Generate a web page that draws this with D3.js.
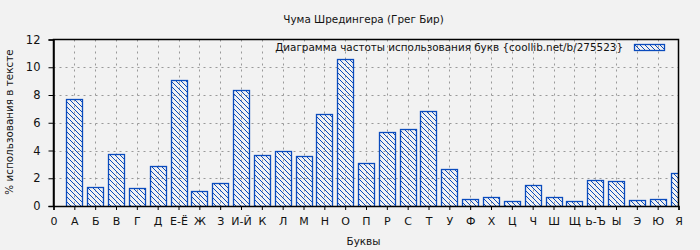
<!DOCTYPE html>
<html>
<head>
<meta charset="utf-8">
<script src="https://cdn.jsdelivr.net/npm/d3@7"></script>
<style>
  html, body { margin: 0; padding: 0; background: #f2f2f2; }
  svg { display: block; font-family: "DejaVu Sans", sans-serif; }
</style>
</head>
<body>
<div id="chart"></div>
<script>
// данные
const letters = ['А', 'Б', 'В', 'Г', 'Д', 'Е-Ё', 'Ж', 'З', 'И-Й', 'К', 'Л', 'М', 'Н', 'О', 'П',
  'Р', 'С', 'Т', 'У', 'Ф', 'Х', 'Ц', 'Ч', 'Ш', 'Щ', 'Ь-Ъ', 'Ы', 'Э', 'Ю', 'Я'];
const percents = [7.68, 1.35, 3.72, 1.27, 2.86, 9.05, 1.06, 1.63, 8.33, 3.65, 3.94, 3.58, 6.60, 10.63, 3.07,
  5.31, 5.52, 6.82, 2.64, 0.48, 0.63, 0.34, 1.49, 0.63, 0.34, 1.85, 1.78, 0.41, 0.48, 2.35];
const yTicks = [0, 2, 4, 6, 8, 10, 12];
const xTickLabels = ['0'].concat(letters);

const title = 'Чума Шредингера (Грег Бир)';
const legendText = 'Диаграмма частоты использования букв {coollib.net/b/275523}';

const W = 700, H = 250;
const pLeft = 53.5, pRight = 678.5, pTop = 39.5, pBottom = 206;
const blue = '#0a4bbd';
const textColor = '#111';

const svg = d3.select('#chart').append('svg')
  .attr('width', W)
  .attr('height', H);

svg.append('rect').attr('width', W).attr('height', H).attr('fill', '#f2f2f2');

// штриховка
const defs = svg.append('defs');
const pat = defs.append('pattern')
  .attr('id', 'hatch')
  .attr('patternUnits', 'userSpaceOnUse')
  .attr('width', 5)
  .attr('height', 5);
pat.append('path')
  .attr('d', 'M0,0 L5,5 M-1,4 L1,6 M4,-1 L6,1')
  .attr('stroke', blue)
  .attr('stroke-width', 1);

defs.append('clipPath').attr('id', 'plotClip')
  .append('rect')
  .attr('x', pLeft).attr('y', pTop - 1)
  .attr('width', pRight - pLeft).attr('height', pBottom - pTop + 2);

const x = d3.scaleLinear().domain([0, 30]).range([pLeft, pRight]);
const y = d3.scaleLinear().domain([0, 12]).range([pBottom, pTop]);

// сетка
const grid = svg.append('g')
  .attr('stroke', '#999')
  .attr('stroke-dasharray', '2,4')
  .attr('stroke-width', 1);
d3.range(1, 30).forEach(i => {
  grid.append('line')
    .attr('x1', Math.round(x(i)) + 0.5).attr('x2', Math.round(x(i)) + 0.5)
    .attr('y1', pTop).attr('y2', pBottom);
});
yTicks.slice(1, -1).forEach(v => {
  grid.append('line')
    .attr('x1', pLeft).attr('x2', pRight)
    .attr('y1', Math.round(y(v)) + 0.5).attr('y2', Math.round(y(v)) + 0.5);
});

// столбцы
const barW = 16;
svg.append('g')
  .attr('clip-path', 'url(#plotClip)')
  .selectAll('rect')
  .data(percents)
  .enter()
  .append('rect')
  .attr('x', (d, i) => Math.round(x(i + 1) - barW / 2) + 0.5)
  .attr('y', d => Math.round(y(d)) + 0.5)
  .attr('width', barW)
  .attr('height', d => Math.round(pBottom) - Math.round(y(d)))
  .attr('fill', 'url(#hatch)')
  .attr('stroke', blue)
  .attr('stroke-width', 1.3);

// рамка
svg.append('path')
  .attr('d', `M${pLeft},${pBottom}V${pTop}H${pRight}V${pBottom}`)
  .attr('fill', 'none')
  .attr('stroke', '#000')
  .attr('stroke-width', 1.5);

// оси
const yAxis = svg.append('g')
  .attr('transform', `translate(${pLeft},0)`)
  .call(d3.axisLeft(y).tickValues(yTicks).tickSize(5).tickPadding(8));
yAxis.select('.domain').attr('stroke-width', 1.5);
yAxis.selectAll('text').attr('font-size', 11.5).attr('font-family', '"DejaVu Sans", sans-serif').attr('fill', textColor);

const xAxis = svg.append('g')
  .attr('transform', `translate(0,${pBottom})`)
  .call(d3.axisBottom(x).tickValues(d3.range(0, 31))
    .tickFormat(i => xTickLabels[i]).tickSize(4).tickPadding(7));
xAxis.select('.domain').attr('stroke-width', 1.5);
xAxis.selectAll('text').attr('font-size', 11).attr('font-family', '"DejaVu Sans", sans-serif').attr('fill', textColor);

// заголовки
svg.append('text')
  .attr('x', 363.5).attr('y', 23)
  .attr('text-anchor', 'middle')
  .attr('font-size', 10.4)
  .attr('fill', textColor)
  .text(title);

svg.append('text')
  .attr('x', 363.5).attr('y', 245)
  .attr('text-anchor', 'middle')
  .attr('font-size', 10.4)
  .attr('fill', textColor)
  .text('Буквы');

svg.append('text')
  .attr('transform', 'rotate(-90)')
  .attr('x', -122).attr('y', 13)
  .attr('text-anchor', 'middle')
  .attr('font-size', 10.4)
  .attr('fill', textColor)
  .text('% использования в тексте');

// легенда
svg.append('text')
  .attr('x', 623).attr('y', 51)
  .attr('text-anchor', 'end')
  .attr('font-size', 10.4)
  .attr('fill', textColor)
  .text(legendText);
svg.append('rect')
  .attr('x', 634.5).attr('y', 44.5)
  .attr('width', 30).attr('height', 6)
  .attr('fill', 'url(#hatch)')
  .attr('stroke', blue)
  .attr('stroke-width', 1.3);
</script>
</body>
</html>
